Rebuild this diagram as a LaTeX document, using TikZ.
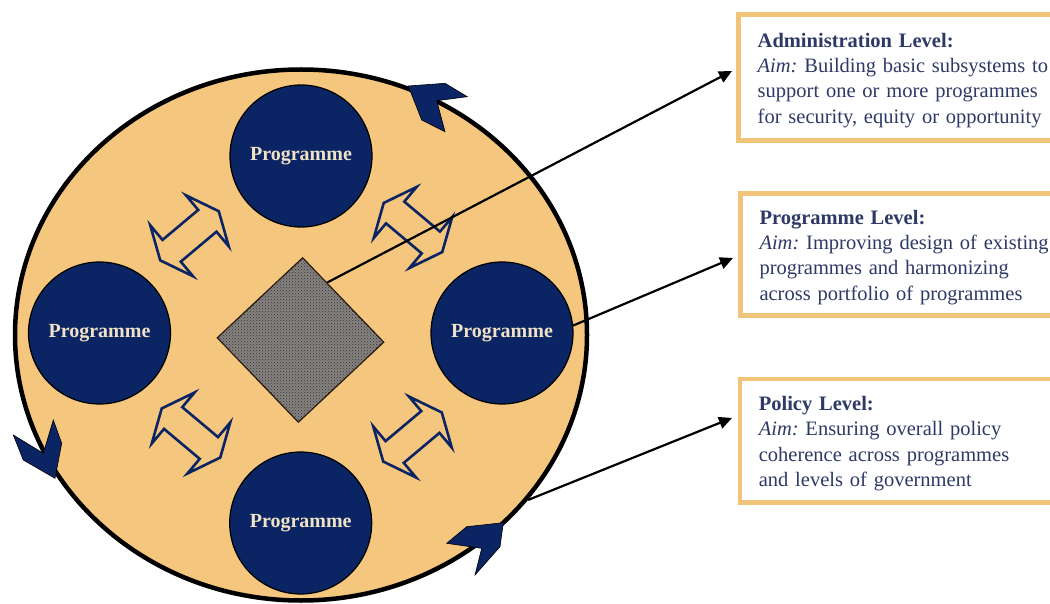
\documentclass[tikz,border=0pt]{standalone}
\usepackage{fontspec}
\setmainfont{Liberation Serif}
\usetikzlibrary{shapes.geometric,arrows.meta,patterns,calc}
\definecolor{navy}{HTML}{0B2463}
\definecolor{sand}{HTML}{F5C67E}
\definecolor{boxline}{HTML}{F1C579}
\definecolor{boxtext}{HTML}{2E3A66}
\definecolor{cream}{HTML}{EFE2C6}
\definecolor{diafill}{HTML}{86827F}
\definecolor{diadot}{HTML}{343230}
\frenchspacing
\newcommand{\tstrut}{\rule{0pt}{20pt}}
\begin{document}
\begin{tikzpicture}[x=1pt,y=-1pt,
  prog/.style={circle, draw=black, line width=1.2, fill=navy, minimum size=142, inner sep=0, text=cream, font=\fontsize{20}{24}\selectfont\bfseries},
  box/.style={draw=boxline, line width=4.5, fill=white, outer sep=0, inner xsep=19, inner ysep=0, text width=320, align=left, anchor=north west, text=boxtext, font=\fontsize{20.5}{25.4}\selectfont},
  conn/.style={draw=black, line width=2.2, -{Triangle[length=13pt,width=12pt]}},
  chev/.style={fill=navy, draw=black, line width=0.6, line join=miter},
  dbl/.style={draw=navy, line width=2.6, line join=miter},
  dblarrow/.pic={\draw[dbl] (-23.3,14.2) -- (23.3,14.2) -- (23.3,33.3) -- (38.2,0) -- (23.3,-33.3) -- (23.3,-14.2) -- (-23.3,-14.2) -- (-23.3,-33.3) -- (-38.2,0) -- (-23.3,33.3) -- cycle;}
]
\useasboundingbox (0,0) rectangle (1050,604);
\fill[white] (0,0) rectangle (1050,604);

\node[ellipse, draw=black, line width=4.5, fill=sand, minimum width=572, minimum height=531, inner sep=0] (big) at (301,335) {};

\node[prog] (pt) at (301,156) {Programme};
\node[prog] (pl) at (99.5,333) {Programme};
\node[prog] (pr) at (502,333) {Programme};
\node[prog] (pb) at (300.7,523) {Programme};

\node[diamond, draw=black!80!brown, line width=1.2, inner sep=0, minimum width=167, minimum height=165, rotate=-1.5, fill=diafill, postaction={pattern=crosshatch dots, pattern color=diadot}] (dia) at (300.5,340) {};

\pic[rotate=40] at (189.5,235.8) {dblarrow};
\pic[rotate=-40] at (413,227.5) {dblarrow};
\pic[rotate=-40] at (191,433) {dblarrow};
\pic[rotate=40] at (412.5,437) {dblarrow};

\path[chev] (408.3,86) -- (445,83.3) -- (467.3,96.7) -- (436.7,100.7) -- (445,131.7) -- (421.7,120) -- cycle;
\path[chev] (55,478.3) -- (23.3,460) -- (13.3,435) -- (43.3,453.3) -- (53.3,420) -- (61.7,443.3) -- cycle;
\path[chev] (446.7,543.3) -- (466.7,526.7) -- (503.3,522.7) -- (500,546.7) -- (475,575) -- (481.7,548.3) -- cycle;

\node[box, minimum height=125.6] (box1) at (738.7,14.7) {\tstrut{\bfseries Administration Level:}\\\textit{Aim:} Building basic subsystems to\\support one or more programmes\\for security, equity or opportunity};
\node[box, minimum height=122.2] (box2) at (740.5,193.3) {\tstrut{\bfseries Programme Level:}\\\textit{Aim:} Improving design of existing\\programmes and harmonizing\\across portfolio of programmes};
\node[box, minimum height=123.3] (box3) at (739.8,379.2) {\tstrut{\bfseries Policy Level:}\\\textit{Aim:} Ensuring overall policy\\coherence across programmes\\and levels of government};

\coordinate (t1) at ($(box1.west)+(-6.7,-6.5)$);
\coordinate (t2) at ($(box2.west)+(-7.5,3.6)$);
\coordinate (t3) at ($(box3.west)+(-7.8,-22.9)$);
\coordinate (s1) at ($(dia.north)!0.3!(dia.east)$);

\draw[conn] (s1) -- (t1);
\draw[conn] (pr.6) -- (t2);
\draw[conn] (big.-36) -- (t3);
\end{tikzpicture}
\end{document}
